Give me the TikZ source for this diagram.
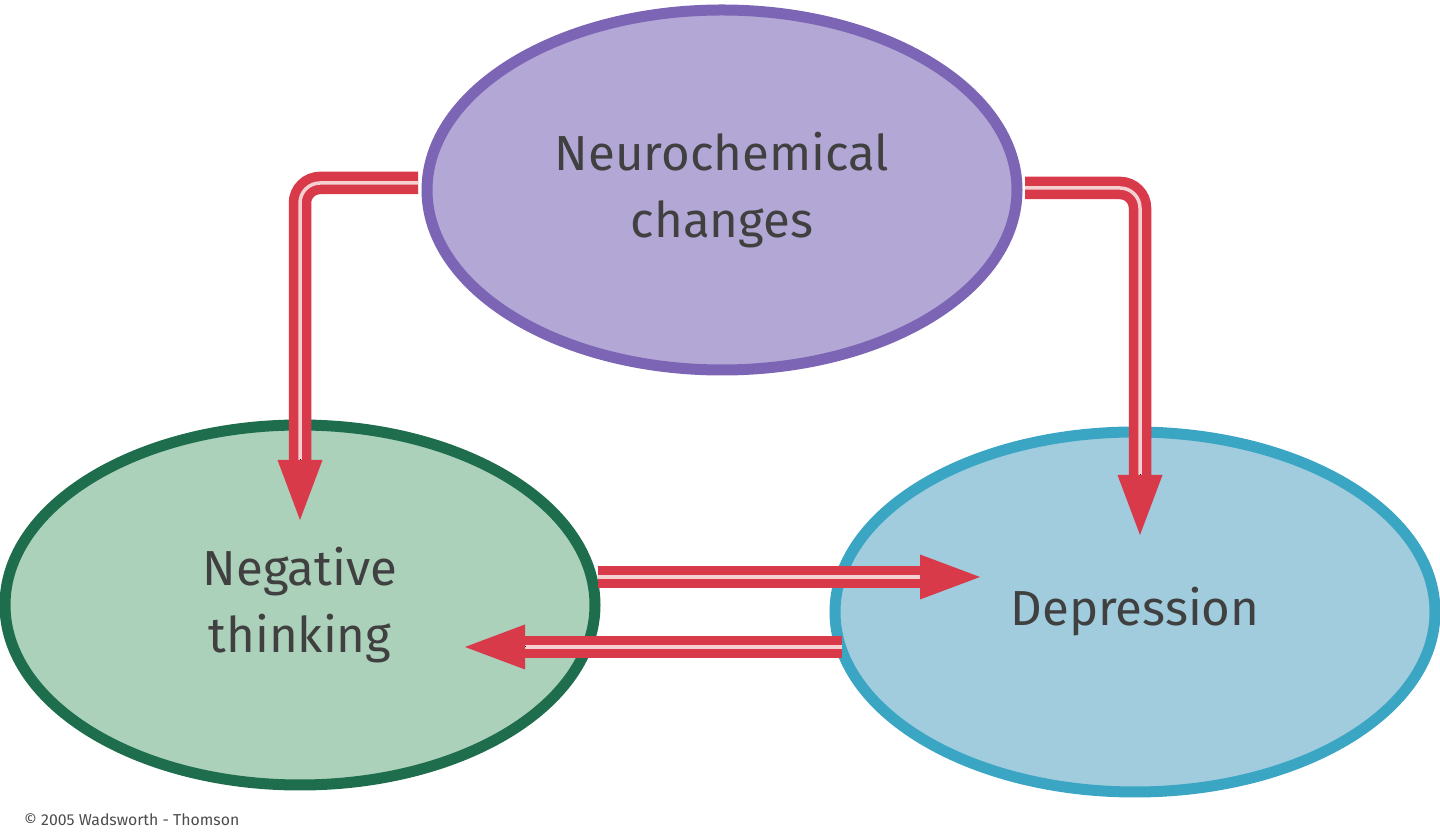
\documentclass[tikz,border=0pt]{standalone}
\usepackage{fontspec}
\setmainfont{Fira Sans}
\usetikzlibrary{positioning, shapes.geometric, arrows.meta}
\definecolor{neurofill}{HTML}{B3A7D6}
\definecolor{neuroline}{HTML}{7C65B5}
\definecolor{negfill}{HTML}{ABD1BB}
\definecolor{negline}{HTML}{1E6E4E}
\definecolor{depfill}{HTML}{A0CCDE}
\definecolor{depline}{HTML}{3AA6C4}
\definecolor{arrowred}{HTML}{D83A4A}
\definecolor{arrowpink}{HTML}{F4D0D2}
\definecolor{tipyellow}{HTML}{F4C36A}

\begin{document}
\begin{tikzpicture}[
    blob/.style={ellipse, line width=1.1mm, minimum width=5.9cm, minimum height=3.6cm,
                 align=center, font=\fontsize{14}{19}\selectfont, text=black!75},
    shaft/.style={line width=0.95mm, draw=arrowred, double=arrowpink, double distance=0.35mm, rounded corners=2mm},
    tip/.style={line width=0pt, -{Triangle[length=6mm, width=4.5mm, fill=arrowred, color=tipyellow]}}
]
\useasboundingbox (0,0) rectangle (14.4,-8.38);

% Ellipses
\node[blob, fill=neurofill, draw=neuroline] (neuro) at (7.22,-1.9) {Neurochemical\\changes};
\node[blob, fill=negfill, draw=negline] (neg) at (3.0,-6.05) {Negative\\thinking};
\node[blob, minimum width=6.0cm, fill=depfill, draw=depline] (dep) at (11.35,-6.12) {Depression};

% Arrow ends
\coordinate (nl) at (4.18,-1.83);
\coordinate (nr) at (10.25,-1.88);
\coordinate (tl) at (3.0,-5.2);
\coordinate (tr) at (11.4,-5.35);
\coordinate (ma) at (5.98,-5.77);
\coordinate (mb) at (9.8,-5.77);
\coordinate (ra) at (8.42,-6.47);
\coordinate (rb) at (4.65,-6.47);

% Connectors
\draw[shaft] (nl) -| ([yshift=5mm]tl);
\draw[tip] ([yshift=6mm]tl) -- (tl);
\draw[shaft] (nr) -| ([yshift=5mm]tr);
\draw[tip] ([yshift=6mm]tr) -- (tr);
\draw[shaft] (ma) -- ([xshift=-5mm]mb);
\draw[tip] ([xshift=-6mm]mb) -- (mb);
\draw[shaft] (ra) -- ([xshift=5mm]rb);
\draw[tip] ([xshift=6mm]rb) -- (rb);

\node[anchor=south west, font=\fontsize{4.5}{6}\selectfont, text=black!70, inner sep=1pt] (copy) at (0.2,-8.3) {\textcopyright{} 2005 Wadsworth - Thomson};
\end{tikzpicture}
\end{document}
